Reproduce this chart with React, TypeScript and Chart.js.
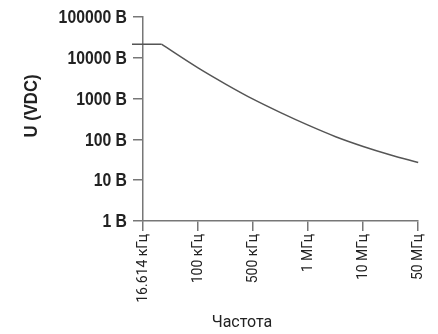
import React, { useEffect, useRef } from "react";
import { Chart, registerables } from "chart.js";

Chart.register(...registerables);

const frequencyLabels = ["16.614 кГц", "100 кГц", "500 кГц", "1 МГц", "10 МГц", "50 МГц"];
const voltageTicks = [1, 10, 100, 1000, 10000, 100000];
const voltageTickLabels = ["1 В", "10 В", "100 В", "1000 В", "10000 В", "100000 В"];
const flatPositions = [-0.2, 0.335];
const flatVoltages = [21300, 21300];
const curvePositions = [0.335, 1, 1.5, 2, 2.5, 3, 3.5, 4, 4.5, 5];
const curveVoltages = [21300, 5600, 2250, 960, 450, 222, 116, 67, 41.4, 27];
const yTitle = "U (VDC)";
const xTitle = "Частота";

const BOLD_FONT = "'Liberation Sans', 'Arial', sans-serif";
const TEXT_FONT = "'Roboto', 'DejaVu Sans', sans-serif";

export default function App() {
  const ref = useRef<HTMLCanvasElement | null>(null);

  useEffect(() => {
    if (!ref.current) return;
    const texts = {
      id: "texts",
      afterDraw(chart: any) {
        const ctx = chart.ctx;
        const ys = chart.scales.y;
        ctx.save();
        ctx.fillStyle = "#222";
        ctx.textAlign = "right";
        ctx.textBaseline = "middle";
        ctx.font = "bold 19px " + BOLD_FONT;
        voltageTicks.forEach((v, i) => {
          const py = ys.getPixelForValue(v);
          ctx.save();
          ctx.translate(127, py + 1);
          ctx.scale(0.83, 1);
          ctx.fillText(voltageTickLabels[i], 0, 0);
          ctx.restore();
        });
        ctx.restore();
        ctx.save();
        ctx.fillStyle = "#222";
        ctx.textAlign = "center";
        ctx.textBaseline = "middle";
        ctx.font = "bold 19px " + BOLD_FONT;
        ctx.translate(32, 106);
        ctx.rotate(-Math.PI / 2);
        ctx.scale(0.88, 1);
        ctx.fillText(yTitle, 0, 0);
        ctx.restore();
        ctx.save();
        ctx.fillStyle = "#222";
        ctx.textAlign = "center";
        ctx.textBaseline = "middle";
        ctx.font = "16px " + TEXT_FONT;
        ctx.fillText(xTitle, 242, 323);
        ctx.restore();
      },
    };
    const chart = new Chart(ref.current, {
      type: "line",
      data: {
        datasets: [
          {
            data: flatPositions.map((x, i) => ({ x, y: flatVoltages[i] })),
            borderColor: "#555",
            borderWidth: 1.5,
            pointRadius: 0,
            tension: 0,
            clip: false as any,
          },
          {
            data: curvePositions.map((x, i) => ({ x, y: curveVoltages[i] })),
            borderColor: "#555",
            borderWidth: 1.5,
            pointRadius: 0,
            cubicInterpolationMode: "monotone",
            clip: false as any,
          },
        ],
      },
      plugins: [texts],
      options: {
        animation: false,
        responsive: false,
        maintainAspectRatio: false,
        layout: { padding: { top: 15, right: 16, left: 0, bottom: 0 } },
        plugins: { legend: { display: false }, tooltip: { enabled: false } },
        scales: {
          x: {
            type: "linear",
            min: 0,
            max: 5,
            afterFit: (s: any) => {
              s.height = 113;
            },
            afterBuildTicks: (s: any) => {
              s.ticks = frequencyLabels.map((_, i) => ({ value: i }));
            },
            ticks: {
              callback: (v: any) => frequencyLabels[v] ?? "",
              minRotation: 90,
              maxRotation: 90,
              autoSkip: false,
              padding: 3,
              color: "#222",
              font: { family: TEXT_FONT, size: 14 },
            },
            grid: { drawOnChartArea: false, drawTicks: true, tickLength: 10, color: "#777", lineWidth: 1.5 },
            border: { display: true, color: "#777", width: 1.5 },
          },
          y: {
            type: "logarithmic",
            min: 1,
            max: 100000,
            afterFit: (s: any) => {
              s.width = 143;
            },
            afterBuildTicks: (s: any) => {
              s.ticks = voltageTicks.map((v) => ({ value: v }));
            },
            ticks: {
              callback: () => "",
              padding: 6,
              color: "rgba(0,0,0,0)",
              font: { family: BOLD_FONT, size: 18, weight: "bold" },
            },
            grid: { drawOnChartArea: false, drawTicks: true, tickLength: 10, color: "#777", lineWidth: 1.5 },
            border: { display: true, color: "#777", width: 1.5 },
          },
        },
      },
    } as any);
    return () => chart.destroy();
  }, []);

  return (
    <div style={{ position: "fixed", left: 0, top: 0, width: 438, height: 334, background: "#fff" }}>
      <canvas ref={ref} width={438} height={334} style={{ width: 438, height: 334, display: "block" }} />
    </div>
  );
}
